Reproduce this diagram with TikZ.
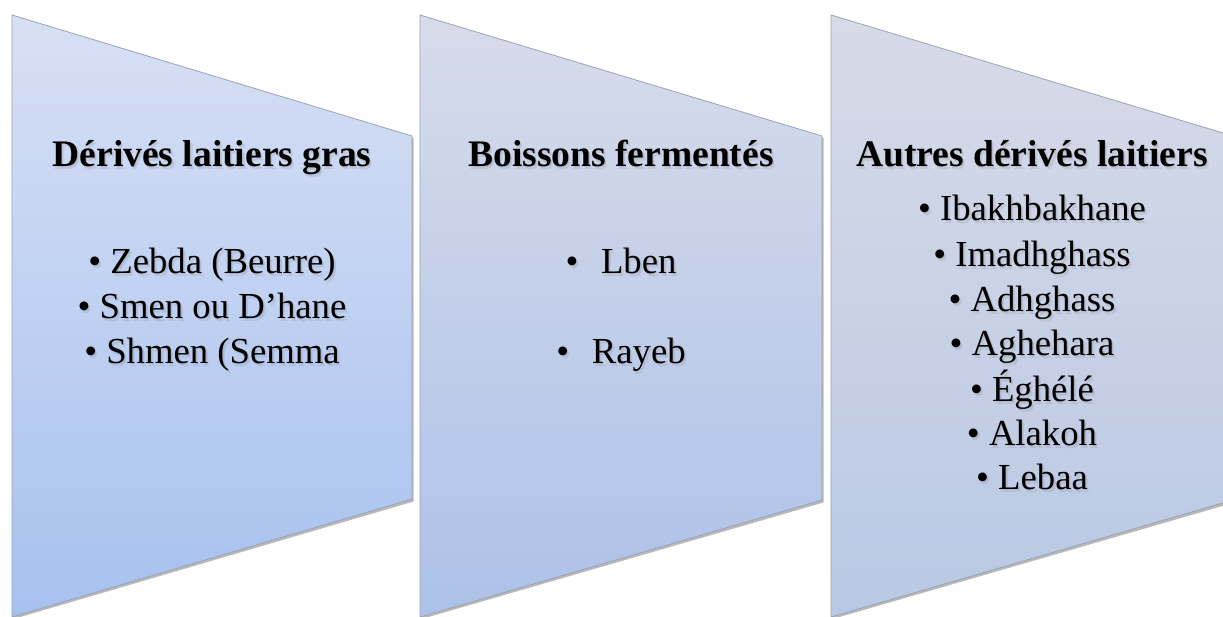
\documentclass[tikz,border=0pt]{standalone}
\usepackage{fontspec}
\setmainfont{Liberation Serif}
\definecolor{sAtop}{HTML}{D7E0F4}
\definecolor{sAbot}{HTML}{A7C1EF}
\definecolor{sBtop}{HTML}{D7DCEA}
\definecolor{sBbot}{HTML}{ADC1E8}
\definecolor{sCtop}{HTML}{D7DBE8}
\definecolor{sCbot}{HTML}{B9C8E4}
\definecolor{edge}{HTML}{9AA3B5}
\tikzset{
  panel/.style={draw=edge, line width=0.8pt, shading angle=0},
  panelshadow/.style={fill=black, opacity=0.28},
  ttl/.style={anchor=base, inner sep=0pt, font=\bfseries\fontsize{37.5}{40}\selectfont},
  itm/.style={anchor=base, inner sep=0pt, font=\fontsize{36.7}{40}\selectfont},
  shd/.style={text=black!60, opacity=0.14}
}
\newcommand{\shtxt}[5]{%
  \node[#4, shd] (#1s) at ({#2+1},{#3+1.5}) {#5};
  \node[#4, shd] (#1t) at ({#2+2.2},{#3+3.2}) {#5};
  \node[#4] (#1) at (#2,#3) {#5};}
\begin{document}
\begin{tikzpicture}[x=1pt,y=-1pt]
\useasboundingbox (0,0) rectangle (1223,616);
\clip (0,0) rectangle (1223,616);
% shadows
\fill[panelshadow] (13.5,17) -- (413.5,138) -- (413.5,501.5) -- (13.5,619) -- cycle;
\fill[panelshadow] (421.5,17) -- (823.5,138) -- (823.5,502.5) -- (421.5,619) -- cycle;
\fill[panelshadow] (832.5,17) -- (1234.5,138) -- (1234.5,502.5) -- (832.5,619) -- cycle;
% panels
\path[panel, top color=sAtop, bottom color=sAbot] (12,15) -- (412,136) -- (412,499) -- (12,617) -- cycle;
\path[panel, top color=sBtop, bottom color=sBbot] (420,15) -- (822,136) -- (822,500) -- (420,617) -- cycle;
\path[panel, top color=sCtop, bottom color=sCbot] (831,15) -- (1233,136) -- (1233,500) -- (831,617) -- cycle;
% panel 1
\shtxt{tA}{212}{166}{ttl}{Dérivés laitiers gras}
\shtxt{aA}{212}{273}{itm}{• Zebda (Beurre)}
\shtxt{aB}{212}{318}{itm}{• Smen ou D’hane}
\shtxt{aC}{212}{363}{itm}{• Shmen (Semma}
% panel 2
\shtxt{tB}{621}{166}{ttl}{Boissons fermentés}
\shtxt{bA}{621}{273}{itm}{•\hspace{0.62em}Lben}
\shtxt{bB}{621}{363}{itm}{•\hspace{0.62em}Rayeb}
% panel 3
\shtxt{tC}{1032}{166}{ttl}{Autres dérivés laitiers}
\shtxt{cA}{1032}{220}{itm}{• Ibakhbakhane}
\shtxt{cB}{1032}{266}{itm}{• Imadhghass}
\shtxt{cC}{1032}{311}{itm}{• Adhghass}
\shtxt{cD}{1032}{355}{itm}{• Aghehara}
\shtxt{cE}{1032}{401}{itm}{• Éghélé}
\shtxt{cF}{1032}{445}{itm}{• Alakoh}
\shtxt{cG}{1032}{489}{itm}{• Lebaa}
\end{tikzpicture}
\end{document}
